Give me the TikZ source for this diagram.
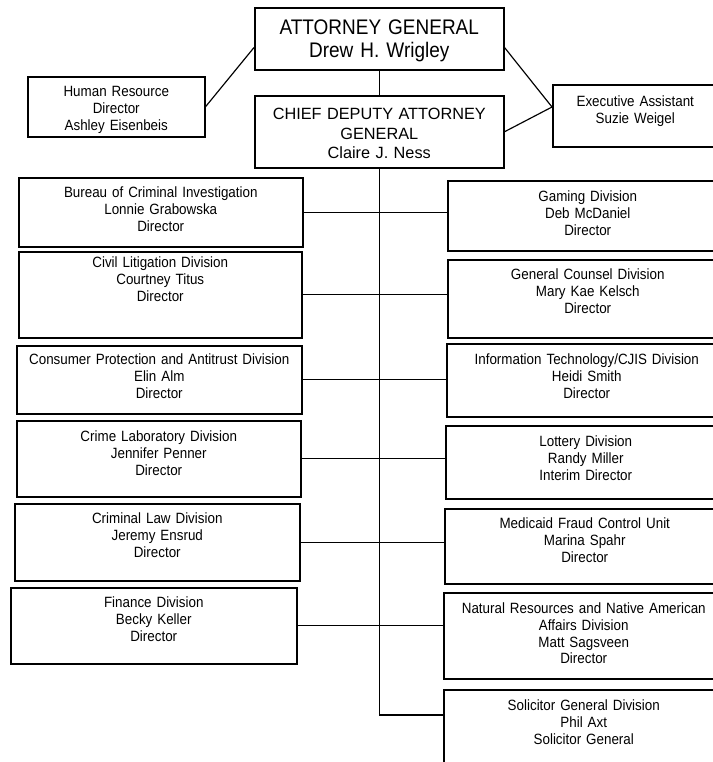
\documentclass[tikz,border=0pt]{standalone}
\usepackage{fontspec}
\setmainfont{Liberation Sans}[FakeStretch=0.9, WordSpace=0.85]
\newfontfamily\deputyfamily{Liberation Sans}
\newcommand\unitfont{\fontsize{12.7}{14.2}\selectfont}
\newcommand\headfont{\fontsize{18}{19.6}\selectfont}
\newcommand\deputyfont{\deputyfamily\fontsize{13.9}{16.6}\selectfont}

\tikzset{
  unitbox/.style n args={3}{draw, line width=1.3pt, anchor=north west, inner sep=0pt,
    align=center, font=\unitfont, text width=#1*0.03cm,
    text height=#3*0.03cm, text depth=(#2-#3)*0.03cm},
  link/.style={line width=1pt},
}

\begin{document}
\begin{tikzpicture}[x=0.03cm, y=-0.03cm]
  \useasboundingbox (0,0) rectangle (713,762);
  \clip (0,0) rectangle (713,762);

  % front office
  \node[unitbox={249}{62}{27}, font=\headfont] (ag) at (254,7) {ATTORNEY GENERAL\\Drew H. Wrigley};
  \node[unitbox={177}{60}{20}] (hr) at (27,76) {Human Resource\\Director\\Ashley Eisenbeis};
  \node[unitbox={249}{72}{24}, font=\deputyfont] (cdag) at (254,95) {CHIEF DEPUTY ATTORNEY\\GENERAL\\Claire J. Ness};
  \node[unitbox={165}{62}{22}] (ea) at (552,84) {Executive Assistant\\Suzie Weigel};

  % divisions, left side
  \node[unitbox={284}{69}{20}] (bci) at (18,177) {Bureau of Criminal Investigation\\Lonnie Grabowska\\Director};
  \node[unitbox={283}{86}{16}] (civil) at (18,251) {Civil Litigation Division\\Courtney Titus\\Director};
  \node[unitbox={285}{68}{19}] (consumer) at (16,345) {Consumer Protection and Antitrust Division\\Elin Alm\\Director};
  \node[unitbox={284}{76}{21}] (crimelab) at (16,420) {Crime Laboratory Division\\Jennifer Penner\\Director};
  \node[unitbox={285}{77}{20}] (crimlaw) at (14,503) {Criminal Law Division\\Jeremy Ensrud\\Director};
  \node[unitbox={286}{76}{20}] (finance) at (10,587) {Finance Division\\Becky Keller\\Director};

  % divisions, right side
  \node[unitbox={280}{70}{21}] (gaming) at (447,180) {Gaming Division\\Deb McDaniel\\Director};
  \node[unitbox={280}{78}{20}] (counsel) at (447,259) {General Counsel Division\\Mary Kae Kelsch\\Director};
  \node[unitbox={280}{73}{21}] (infotech) at (446,343) {Information Technology/CJIS Division\\Heidi Smith\\Director};
  \node[unitbox={280}{73}{21}] (lottery) at (445,425) {Lottery Division\\Randy Miller\\Interim Director};
  \node[unitbox={280}{75}{20}] (medicaid) at (444,508) {Medicaid Fraud Control Unit\\Marina Spahr\\Director};
  \node[unitbox={280}{86}{21}] (natres) at (443,592) {Natural Resources and Native American\\Affairs Division\\Matt Sagsveen\\Director};
  \node[unitbox={280}{90}{21}] (solgen) at (443,689) {Solicitor General Division\\Phil Axt\\Solicitor General};

  \draw[link] (ag.south) -- (cdag.north);
  \draw[link] (ag.184) -- (hr.east);
  \draw[link] (ag.-4) -- (ea.174);
  \draw[link] (cdag.east) -- (ea.174);
  \draw[link] (cdag.south) |- (solgen.172);
  \foreach \lft/\rgt in {bci/gaming, civil/counsel, consumer/infotech, crimelab/lottery, crimlaw/medicaid, finance/natres}
    \draw[link] (\lft.east) -- (\lft.east -| \rgt.west);
\end{tikzpicture}
\end{document}
